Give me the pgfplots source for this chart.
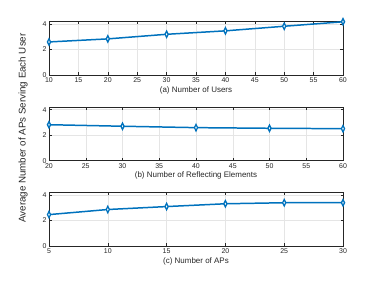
\documentclass[border=0pt]{standalone}
\usepackage{fontspec}
\setmainfont{Liberation Sans}
\usepackage{pgfplots}
\pgfplotsset{compat=1.18}
\definecolor{mblue}{RGB}{0,114,189}
\definecolor{axc}{RGB}{38,38,38}
\pgfplotsset{
  sub/.style={
    scale only axis, width=294bp,
    ymin=0, ymax=4.2, ytick={0,2,4},
    axis line style={axc, line width=0.4pt},
    tick style={axc, line width=0.4pt}, tick align=inside, major tick length=2.5bp,
    grid=major, grid style={gray!20, line width=0.4pt},
    ticklabel style={font=\fontsize{7}{8}\selectfont, text=axc},
    /pgf/number format/assume math mode=true,
    xlabel style={font=\fontsize{8}{9}\selectfont, text=axc, yshift=3bp},
    xticklabel style={yshift=1bp},
    yticklabel style={xshift=1bp},
    anchor=south west,
  },
  myline/.style={color=mblue, line width=1.5pt, mark=diamond*, mark size=3.2pt, mark options={fill=white, draw=mblue, line width=1.3pt, solid, xscale=0.65}},
}
\begin{document}
\begin{tikzpicture}
\useasboundingbox (0,0) rectangle (379bp,285bp);
\begin{axis}[sub, at={(49bp,210bp)}, height=53.6bp, xmin=10, xmax=60, xtick={10,15,...,60}, xlabel={(a) Number of Users}]
\addplot[myline] coordinates {(10,2.59) (20,2.83) (30,3.19) (40,3.46) (50,3.82) (60,4.17)};
\end{axis}
\begin{axis}[sub, at={(49bp,124.3bp)}, height=53.6bp, xmin=20, xmax=60, xtick={20,25,...,60}, xlabel={(b) Number of Reflecting Elements}]
\addplot[myline] coordinates {(20,2.82) (30,2.70) (40,2.59) (50,2.54) (60,2.51)};
\end{axis}
\begin{axis}[sub, at={(49bp,39bp)}, height=53.6bp, xmin=5, xmax=30, xtick={5,10,...,30}, xlabel={(c) Number of APs}]
\addplot[myline] coordinates {(5,2.46) (10,2.86) (15,3.09) (20,3.31) (25,3.39) (30,3.39)};
\end{axis}
\node[rotate=90, font=\fontsize{9.8}{11}\selectfont, text=axc] at (23bp,157bp) {Average Number of APs Serving Each User};
\end{tikzpicture}
\end{document}
